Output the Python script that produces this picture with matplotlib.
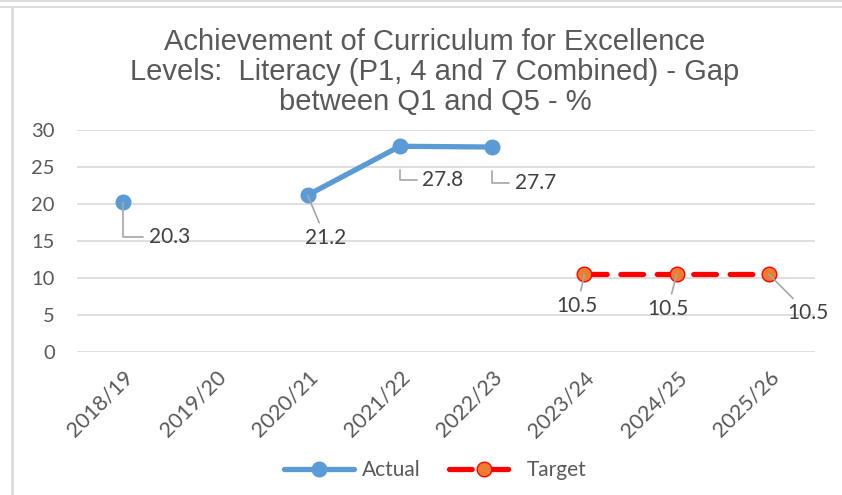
import matplotlib
matplotlib.use('Agg')
from matplotlib import pyplot as plt
from matplotlib.lines import Line2D
import numpy as np

# data
years = ['2018/19', '2019/20', '2020/21', '2021/22', '2022/23', '2023/24', '2024/25', '2025/26']
actual = [20.3, np.nan, 21.2, 27.8, 27.7, np.nan, np.nan, np.nan]
target = [np.nan, np.nan, np.nan, np.nan, np.nan, 10.5, 10.5, 10.5]
title = 'Achievement of Curriculum for Excellence\nLevels:  Literacy (P1, 4 and 7 Combined) - Gap\nbetween Q1 and Q5 - %'

grey = '#595959'
blue = '#5B9BD5'
red = '#FF0000'
orange = '#ED7D31'
label_font = 'Lato'

fig = plt.figure(figsize=(8.42, 4.95), dpi=100)
ax = fig.add_axes([77/842, 1 - 352/495, (815-77)/842, (352-130)/495])

x = np.arange(len(years))

ax.plot(x, actual, color=blue, lw=3.8, marker='o', ms=10.5, mfc=blue, mec=blue,
        solid_capstyle='round', label='Actual', zorder=3)
ax.plot(x, target, color=red, lw=3.8, ls=(0, (4.3, 2.6)), marker='o', ms=10.5,
        mfc=orange, mec=red, mew=1, dash_capstyle='round', label='Target', zorder=3)

ax.set_xlim(-0.5, len(years) - 0.5)
ax.set_ylim(0, 30)
ax.set_yticks(range(0, 31, 5))
ax.set_xticks(x)
ax.set_xticklabels(years, rotation=45, ha='right', rotation_mode='anchor')
ax.yaxis.grid(True, color='#D9D9D9', lw=1.2)
ax.set_axisbelow(True)
for s in ax.spines.values():
    s.set_visible(False)
ax.tick_params(length=0, labelsize=14.5, labelcolor=grey)
ax.tick_params(axis='y', pad=16)
ax.tick_params(axis='x', pad=11, labelsize=15.5)
for t in ax.get_xticklabels() + ax.get_yticklabels():
    t.set_family(label_font)

# data labels: offsets in pixels (dx, dy), leader style, shrink at the point
lab_style = [
    ((46, -35), 'angle,angleA=0,angleB=90,rad=0', 0),
    (None, None, None),
    ((18, -43), 'arc3', 0),
    ((43, -34), 'angle,angleA=0,angleB=90,rad=0', 17),
    ((43, -36), 'angle,angleA=0,angleB=90,rad=0', 17),
    ((-7, -32), 'arc3', 0),
    ((-9, -35), 'arc3', 0),
    ((39, -39), 'arc3', 0),
]
for i in range(len(years)):
    v = actual[i] if not np.isnan(actual[i]) else target[i]
    if np.isnan(v):
        continue
    (dx, dy), conn, shr = lab_style[i]
    ax.annotate(f'{v:.1f}', xy=(x[i], v), xytext=(dx * 0.72, dy * 0.72),
                textcoords='offset points', ha='center', va='center',
                fontsize=15, color='#404040', family=label_font,
                arrowprops=dict(arrowstyle='-', color='#A6A6A6', lw=1.2,
                                connectionstyle=conn, shrinkA=2, shrinkB=shr),
                zorder=4)

fig.text(435/842, 1 - 72/495, title, ha='center', va='center', fontsize=21,
         color=grey, family='Liberation Sans', linespacing=1.08)

leg = fig.legend(loc='center', bbox_to_anchor=(435/842, 1 - 470/495), ncol=2,
                 frameon=False, handlelength=3.4, handletextpad=0.35,
                 columnspacing=1.35, prop={'family': label_font, 'size': 15})
for t in leg.get_texts():
    t.set_color(grey)

# screenshot frame lines
for yy in (1, 7):
    fig.add_artist(Line2D([0, 1], [1 - yy/495, 1 - yy/495], color='#DCDCDC', lw=1.5,
                          transform=fig.transFigure))
fig.add_artist(Line2D([12/842, 12/842], [0, 1 - 7/495], color='#DCDCDC', lw=2,
                      transform=fig.transFigure))

fig.savefig('out.png', dpi=100)
